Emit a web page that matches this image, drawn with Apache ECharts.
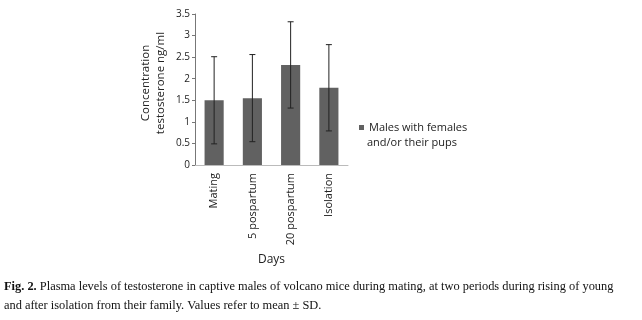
<!DOCTYPE html>
<html>
<head>
<meta charset="utf-8">
<script src="https://cdn.jsdelivr.net/npm/echarts@6/dist/echarts.min.js"></script>
<style>
  html, body { margin: 0; padding: 0; background: #fff; }
  #chart { width: 642px; height: 320px; }
</style>
</head>
<body>
<div id="chart"></div>
<script>
// data
const days = ['Mating', '5 pospartum', '20 pospartum', 'Isolation']
const meanValues = [1.5, 1.55, 2.32, 1.79]
const sdValues = [1.01, 1.01, 1.0, 1.0]
const yTicks = [0, 0.5, 1, 1.5, 2, 2.5, 3, 3.5]

const legendLines = ['Males with females', 'and/or their pups']
const seriesName = legendLines.join(' ')

const errData = days.map((d, i) => [i, meanValues[i] - sdValues[i], meanValues[i] + sdValues[i]])

const chart = echarts.init(document.getElementById('chart'))

chart.setOption({
  animation: false,
  textStyle: { fontFamily: 'Open Sans, DejaVu Sans, sans-serif' },
  title: {
    text: '{b|Fig. 2.} Plasma levels of testosterone in captive males of volcano mice during mating, at two periods during rising of young\nand after isolation from their family. Values refer to mean ± SD.',
    left: 4,
    top: 277,
    padding: 0,
    textStyle: {
      fontFamily: 'Liberation Serif, serif',
      fontSize: 12.4,
      fontWeight: 'normal',
      color: '#111',
      lineHeight: 19,
      rich: {
        b: { fontFamily: 'Liberation Serif, serif', fontSize: 12.4, fontWeight: 'bold', color: '#111', lineHeight: 19 }
      }
    }
  },
  legend: {
    data: [seriesName],
    formatter: () => legendLines[0],
    left: 354,
    top: 117,
    icon: 'rect',
    itemWidth: 5,
    itemHeight: 5,
    textStyle: { fontSize: 11, color: '#222' }
  },
  graphic: [{
    type: 'text',
    left: 367,
    top: 137,
    style: { text: legendLines[1], font: '11px "Open Sans", sans-serif', fill: '#222' }
  }],
  grid: { left: 195, top: 14, width: 153, height: 151, containLabel: false },
  xAxis: {
    type: 'category',
    data: days,
    name: 'Days',
    nameLocation: 'middle',
    nameGap: 89,
    nameTextStyle: { fontSize: 12, color: '#222' },
    axisLine: { lineStyle: { color: '#bbb' } },
    axisTick: { show: false },
    axisLabel: { rotate: 90, fontSize: 11, color: '#222', margin: 8 }
  },
  yAxis: {
    type: 'value',
    min: 0,
    max: 3.5,
    interval: 0.5,
    name: 'Concentration\ntestosterone ng/ml',
    nameLocation: 'middle',
    nameRotate: 90,
    nameGap: 27,
    nameTextStyle: { fontSize: 11.5, color: '#222', lineHeight: 15, padding: [0, 0, 0, 13] },
    axisLine: { show: true, lineStyle: { color: '#777' } },
    axisTick: { show: true, length: 3, lineStyle: { color: '#777' } },
    splitLine: { show: false },
    axisLabel: {
      fontSize: 10, color: '#222', margin: 5,
      formatter: v => yTicks.includes(v) ? String(v) : ''
    }
  },
  series: [
    {
      name: seriesName,
      type: 'bar',
      data: meanValues,
      barWidth: '50%',
      itemStyle: { color: '#616161' }
    },
    {
      type: 'custom',
      name: 'sd',
      data: errData,
      z: 10,
      renderItem: (params, api) => {
        const x = api.value(0)
        const lo = api.coord([x, api.value(1)])
        const hi = api.coord([x, api.value(2)])
        const half = 3
        const style = { stroke: '#222', lineWidth: 1 }
        return {
          type: 'group',
          children: [
            { type: 'line', shape: { x1: lo[0], y1: lo[1], x2: hi[0], y2: hi[1] }, style },
            { type: 'line', shape: { x1: hi[0] - half, y1: hi[1], x2: hi[0] + half, y2: hi[1] }, style },
            { type: 'line', shape: { x1: lo[0] - half, y1: lo[1], x2: lo[0] + half, y2: lo[1] }, style }
          ]
        }
      }
    }
  ]
})
</script>
</body>
</html>
